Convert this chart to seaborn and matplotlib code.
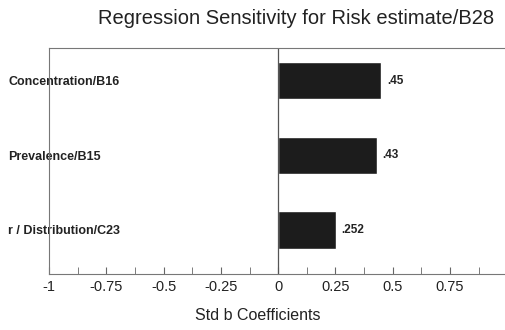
import matplotlib
matplotlib.use("Agg")
import matplotlib.pyplot as plt
import seaborn as sns
import pandas as pd
import numpy as np

categories = ["Concentration/B16", "Prevalence/B15", "r / Distribution/C23"]
coefficients = [0.45, 0.43, 0.252]
value_labels = [".45", ".43", ".252"]
x_ticks = [-1, -0.75, -0.5, -0.25, 0, 0.25, 0.5, 0.75]
x_tick_labels = ["-1", "-0.75", "-0.5", "-0.25", "0", "0.25", "0.5", "0.75"]

df = pd.DataFrame({"input": categories, "coef": coefficients})

sns.set_style("white")
plt.rcParams["font.family"] = ["Liberation Sans", "DejaVu Sans"]

fig = plt.figure(figsize=(5.05, 3.30), dpi=100)
ax = fig.add_axes([49 / 505, 56 / 330, 456 / 505, 226 / 330])

sns.barplot(data=df, x="coef", y="input", orient="h", color="#1c1c1c",
            width=0.5, ax=ax, saturation=1)
ax.bar_label(ax.containers[0], labels=value_labels, padding=4,
             fontsize=8.5, fontweight="bold", color="#222222")

ax.axvline(0, color="#555555", lw=0.9)
ax.set_xlim(-1, 0.99)
ax.set_ylim(2.59, -0.44)

ax.set_xticks(x_ticks)
ax.set_xticklabels(x_tick_labels, fontsize=10.5, color="#222222")
ax.set_xticks(np.arange(-0.875, 1.0, 0.25), minor=True)
ax.tick_params(axis="x", which="both", direction="in", length=5,
               color="#666666", pad=4, bottom=True)

ax.tick_params(axis="y", length=0, pad=29.5)
for lab in ax.get_yticklabels():
    lab.set_ha("left")
    lab.set_fontsize(9)
    lab.set_fontweight("bold")
    lab.set_color("#222222")

ax.set_ylabel("")
ax.set_xlabel("Std b Coefficients", fontsize=11.5, color="#222222")
ax.xaxis.set_label_coords(0.458, -0.15)

for side in ["left", "top", "bottom"]:
    ax.spines[side].set_visible(True)
    ax.spines[side].set_color("#777777")
    ax.spines[side].set_linewidth(0.8)
ax.spines["right"].set_visible(False)

fig.text(296 / 505, 1 - 18 / 330, "Regression Sensitivity for Risk estimate/B28",
         ha="center", va="center", fontsize=14.5, color="#222222")

fig.savefig("out.png", dpi=100)
